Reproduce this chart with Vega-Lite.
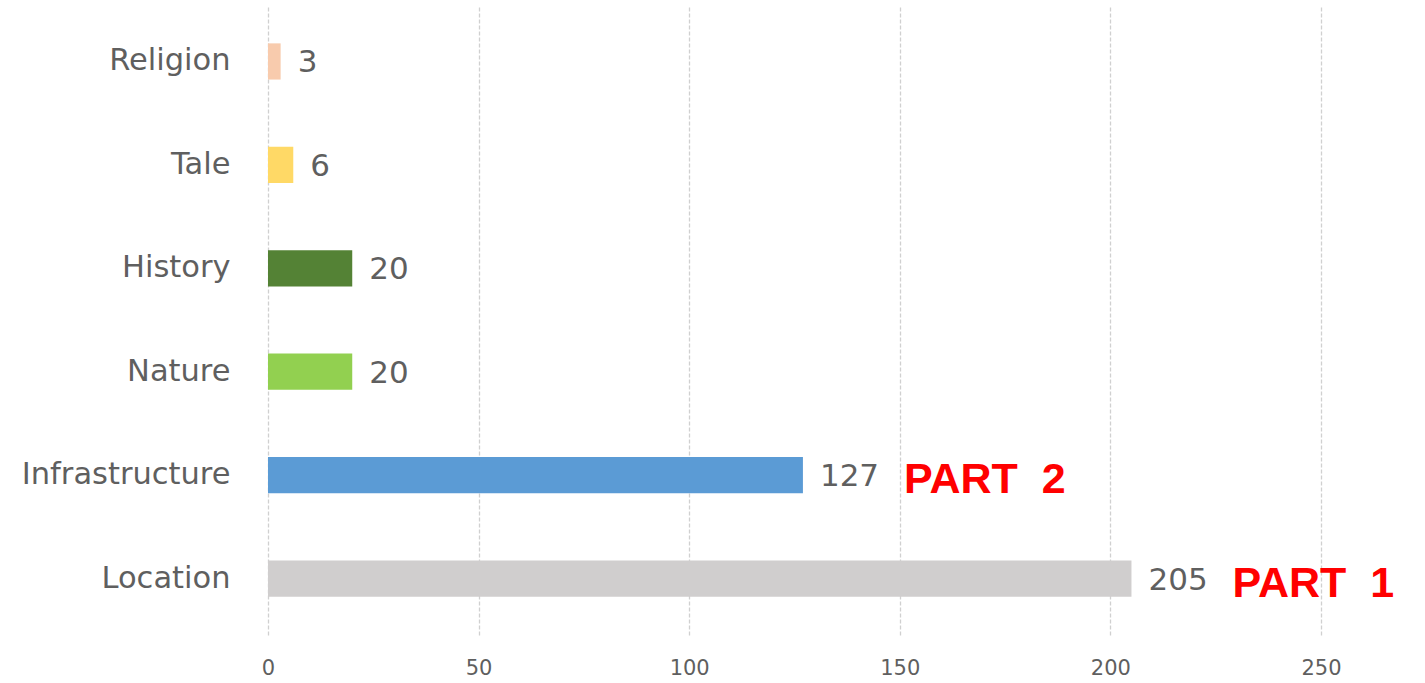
{
  "$schema": "https://vega.github.io/schema/vega-lite/v6.json",
  "autosize": "none",
  "width": 1053,
  "height": 630,
  "padding": {"left": 268, "top": 5, "right": 104, "bottom": 48},
  "background": "white",
  "config": {"view": {"stroke": null}, "font": "DejaVu Sans"},
  "data": {"values": [
    {"category": "Religion", "value": 3, "note": ""},
    {"category": "Tale", "value": 6, "note": ""},
    {"category": "History", "value": 20, "note": ""},
    {"category": "Nature", "value": 20, "note": ""},
    {"category": "Infrastructure", "value": 127, "note": "PART\u00a0 2"},
    {"category": "Location", "value": 205, "note": "PART\u00a0 1"}
  ]},
  "encoding": {
    "y": {"field": "category", "type": "nominal", "sort": null,
      "scale": {"paddingInner": 0.65, "paddingOuter": 0.371},
      "axis": {"title": null, "domain": false, "ticks": false, "labelFontSize": 30.5, "labelColor": "#5f5f5f", "labelPadding": 38, "labelLimit": 0, "labelFont": "DejaVu Sans"}},
    "x": {"field": "value", "type": "quantitative",
      "scale": {"domain": [0, 250]},
      "axis": {"title": null, "values": [0, 50, 100, 150, 200, 250], "domain": false, "ticks": false, "labelFlush": false, "labelFontSize": 21, "labelColor": "#5f5f5f", "labelPadding": 22, "labelFont": "DejaVu Sans", "grid": true, "gridColor": "#d0d0d0", "gridDash": [4, 2], "gridWidth": 1.3}}
  },
  "layer": [
    {"mark": {"type": "bar"},
     "encoding": {"color": {"field": "category", "type": "nominal", "legend": null,
       "scale": {"domain": ["Religion", "Tale", "History", "Nature", "Infrastructure", "Location"],
                 "range": ["#F8CBAD", "#FFD966", "#548235", "#92D050", "#5B9BD5", "#D0CECE"]}}}},
    {"mark": {"type": "text", "align": "left", "baseline": "middle", "dx": 17, "dy": 2, "fontSize": 31, "color": "#5f5f5f", "font": "DejaVu Sans"},
     "encoding": {"text": {"field": "value", "type": "quantitative"}}},
    {"mark": {"type": "text", "align": "left", "baseline": "middle", "dx": 101, "dy": 5, "fontSize": 43, "fontWeight": "bold", "color": "#FF0000", "font": "Liberation Sans"},
     "encoding": {"text": {"field": "note", "type": "nominal"}}}
  ]
}
